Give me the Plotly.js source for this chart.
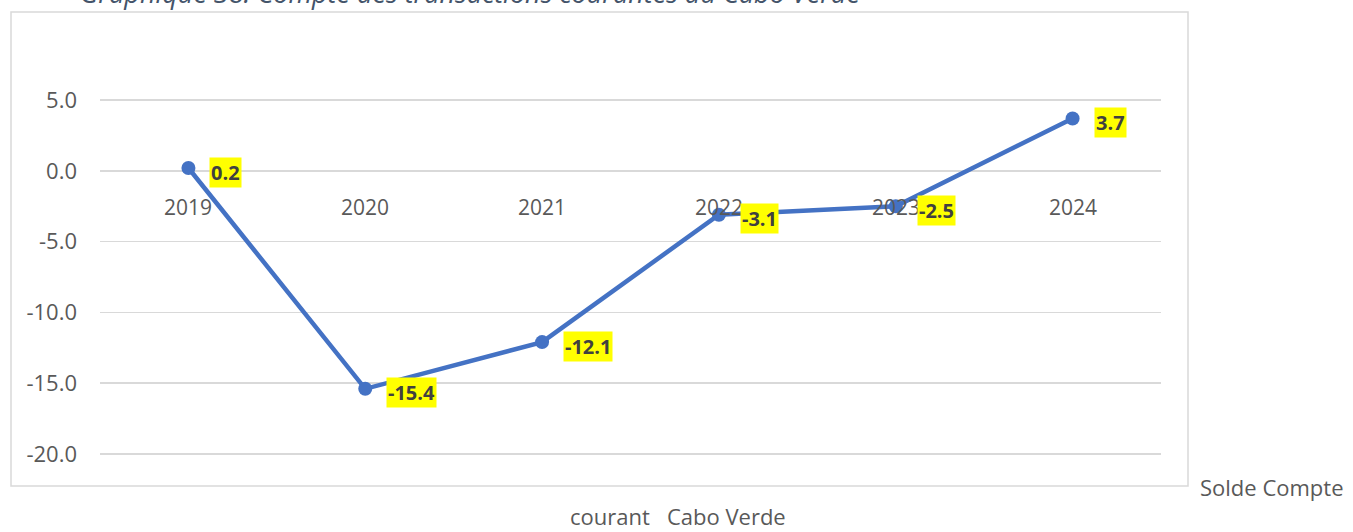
<!DOCTYPE html>
<html>
<head>
<meta charset="utf-8">
<script src="https://cdn.plot.ly/plotly-3.0.1.min.js"></script>
<style>html,body{margin:0;padding:0;background:#fff;}#chart{width:1353px;height:532px;}</style>
</head>
<body>
<div id="chart"></div>
<script>
const categories = ["2019", "2020", "2021", "2022", "2023", "2024"];
const values = [0.2, -15.4, -12.1, -3.1, -2.5, 3.7];
const yTickVals = [5, 0, -5, -10, -15, -20];
const yTickText = ["5.0", "0.0", "-5.0", "-10.0", "-15.0", "-20.0"];
const titleText = "Graphique 38: Compte des transactions courantes du Cabo Verde";
const legendLine1 = "Solde Compte";
const legendLine2 = "courant\u00a0\u00a0 Cabo Verde";

const W = 1353, H = 532;
const L = 100, R = 1161, T = 93, B = 461;
const px = x => (x - L) / (R - L);
const py = y => (B - y) / (B - T);

const font = "Open Sans, Noto Sans, sans-serif";
const grey = "#595959";
const fs = 22;

const annotations = [];
categories.forEach((c, i) => {
  annotations.push({
    x: i, y: 0, xref: "x", yref: "y", text: c, showarrow: false,
    xanchor: "center", yanchor: "middle", yshift: -36,
    font: {family: font, size: 21, color: grey}
  });
  annotations.push({
    x: i, y: values[i], xref: "x", yref: "y", text: "<b>" + values[i].toFixed(1) + "</b>",
    showarrow: false, xanchor: "left", yanchor: "middle", xshift: 21, yshift: -4,
    bgcolor: "#FFFF00", borderpad: 1,
    font: {family: font, size: 20, color: "#404040"}
  });
});
annotations.push({
  x: px(78), y: py(-7), xref: "paper", yref: "paper", text: "<i>" + titleText + "</i>",
  showarrow: false, xanchor: "left", yanchor: "middle",
  font: {family: font, size: 27, color: "#44546A"}
});
annotations.push({
  x: px(1198), y: py(487), xref: "paper", yref: "paper", text: legendLine1,
  showarrow: false, xanchor: "left", yanchor: "middle",
  font: {family: font, size: fs, color: grey}
});
annotations.push({
  x: px(678), y: py(516), xref: "paper", yref: "paper", text: legendLine2,
  showarrow: false, xanchor: "center", yanchor: "middle",
  font: {family: font, size: fs, color: grey}
});

const data = [{
  x: categories.map((c, i) => i),
  y: values,
  type: "scatter",
  mode: "lines+markers",
  line: {color: "#4472C4", width: 4.5},
  marker: {color: "#4472C4", size: 14},
  hoverinfo: "skip",
  showlegend: false
}];

const layout = {
  width: W, height: H,
  margin: {l: L, r: W - R, t: T, b: H - B, pad: 0},
  paper_bgcolor: "#ffffff",
  plot_bgcolor: "#ffffff",
  showlegend: false,
  xaxis: {
    range: [-0.5, 5.5], showgrid: false, zeroline: false, showticklabels: false,
    ticks: "", showline: false, fixedrange: true
  },
  yaxis: {
    range: [-20.5, 5.5], tickvals: yTickVals, ticktext: yTickText,
    showgrid: true, gridcolor: "#D9D9D9", gridwidth: 1.5,
    zeroline: true, zerolinecolor: "#D9D9D9", zerolinewidth: 1.5,
    showline: false, ticks: "", ticklabelstandoff: 22,
    tickfont: {family: font, size: fs, color: grey}, fixedrange: true
  },
  shapes: [{
    type: "rect", xref: "paper", yref: "paper",
    x0: px(11), x1: px(1188), y0: py(486), y1: py(12),
    line: {color: "#D9D9D9", width: 1.5}, fillcolor: "rgba(0,0,0,0)", layer: "below"
  }],
  annotations: annotations
};

Plotly.newPlot("chart", data, layout, {displayModeBar: false, staticPlot: true});
</script>
</body>
</html>
